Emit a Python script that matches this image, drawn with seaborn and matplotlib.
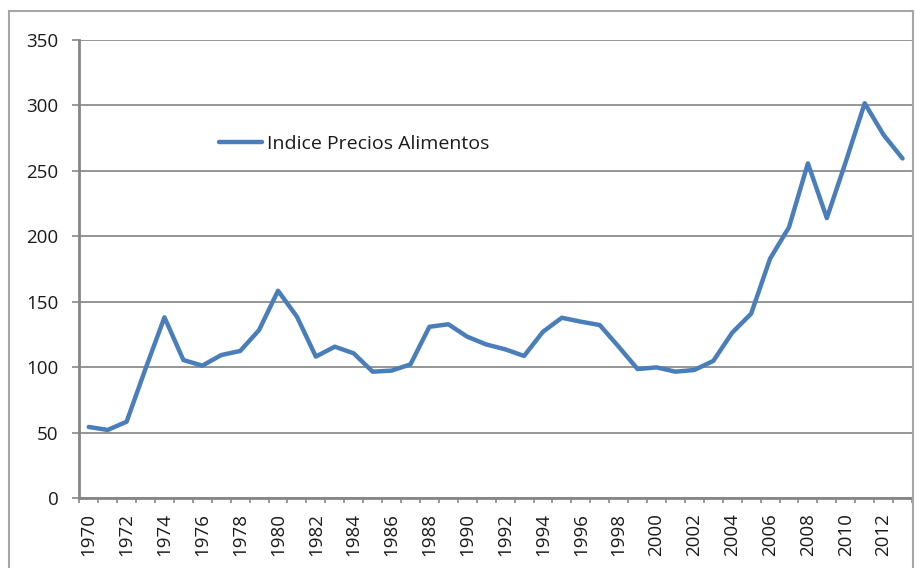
import matplotlib
matplotlib.use("Agg")
import matplotlib.pyplot as plt
import seaborn as sns
import pandas as pd
from matplotlib.patches import Rectangle

years = list(range(1970, 2014))
indice = [54.5, 52.2, 58.5, 99, 138.2, 105.6, 101.3, 109.4, 112.5, 128.5,
          158.5, 138.7, 108.2, 115.8, 110.7, 96.7, 97.5, 102.3, 131, 132.9,
          123.4, 117.5, 113.8, 108.7, 127.2, 137.9, 134.9, 132.3, 115.8, 98.7,
          100, 96.7, 98, 104.9, 126.5, 141, 183, 207, 255.8, 214,
          257, 301.7, 277.5, 259.5]
serie = "Indice Precios Alimentos"

df = pd.DataFrame({"year": years, "valor": indice})

sns.set_style("white")
plt.rcParams["font.family"] = ["Open Sans", "DejaVu Sans"]

fig = plt.figure(figsize=(9.15, 5.68), dpi=100)
ax = fig.add_axes([79.3 / 915, 1 - 498.3 / 568, (912 - 79.3) / 915, (498.3 - 40) / 568])

sns.lineplot(data=df, x="year", y="valor", ax=ax, color="#4a7ebb",
             linewidth=3.2, label=serie)

ax.set_xlim(1969.5, 2013.5)
ax.set_ylim(0, 350)
ax.set_yticks(range(0, 351, 50))
ax.yaxis.grid(True, color="#8c8c8c", linewidth=1.3)
ax.xaxis.grid(False)

# ticks sit between categories, labels every second year
ax.set_xticks([y - 0.5 for y in years] + [2013.5])
ax.set_xticklabels([])
ax.set_xticks(years[::2], minor=True)
ax.set_xticklabels([str(y) for y in years[::2]], minor=True, rotation=90)
ax.tick_params(axis="x", which="major", direction="out", length=3.6, width=1.2,
               color="#868686", bottom=True)
ax.tick_params(axis="x", which="minor", length=0, pad=10.5, labelsize=13.5,
               labelcolor="#1a1a1a")
ax.tick_params(axis="y", direction="out", length=5, width=1.2, color="#868686",
               left=True, pad=10, labelsize=13.5, labelcolor="#1a1a1a")
ax.set_xlabel("")
ax.set_ylabel("")

for side in ["top", "right"]:
    ax.spines[side].set_visible(False)
for side in ["left", "bottom"]:
    ax.spines[side].set_color("#868686")
    ax.spines[side].set_linewidth(2)

ax.legend(loc="center left", bbox_to_anchor=(219 / 915, 1 - 144 / 568),
          bbox_transform=fig.transFigure, frameon=False, fontsize=14,
          handlelength=2.2, handletextpad=0.25, borderpad=0, borderaxespad=0,
          labelcolor="#1a1a1a")

fig.patches.append(Rectangle((9 / 915, -0.05), (913 - 9) / 915, 1.05 - 11 / 568,
                             transform=fig.transFigure, fill=False,
                             edgecolor="#a6a6a6", linewidth=1.5))

fig.savefig("out.png", dpi=100)
